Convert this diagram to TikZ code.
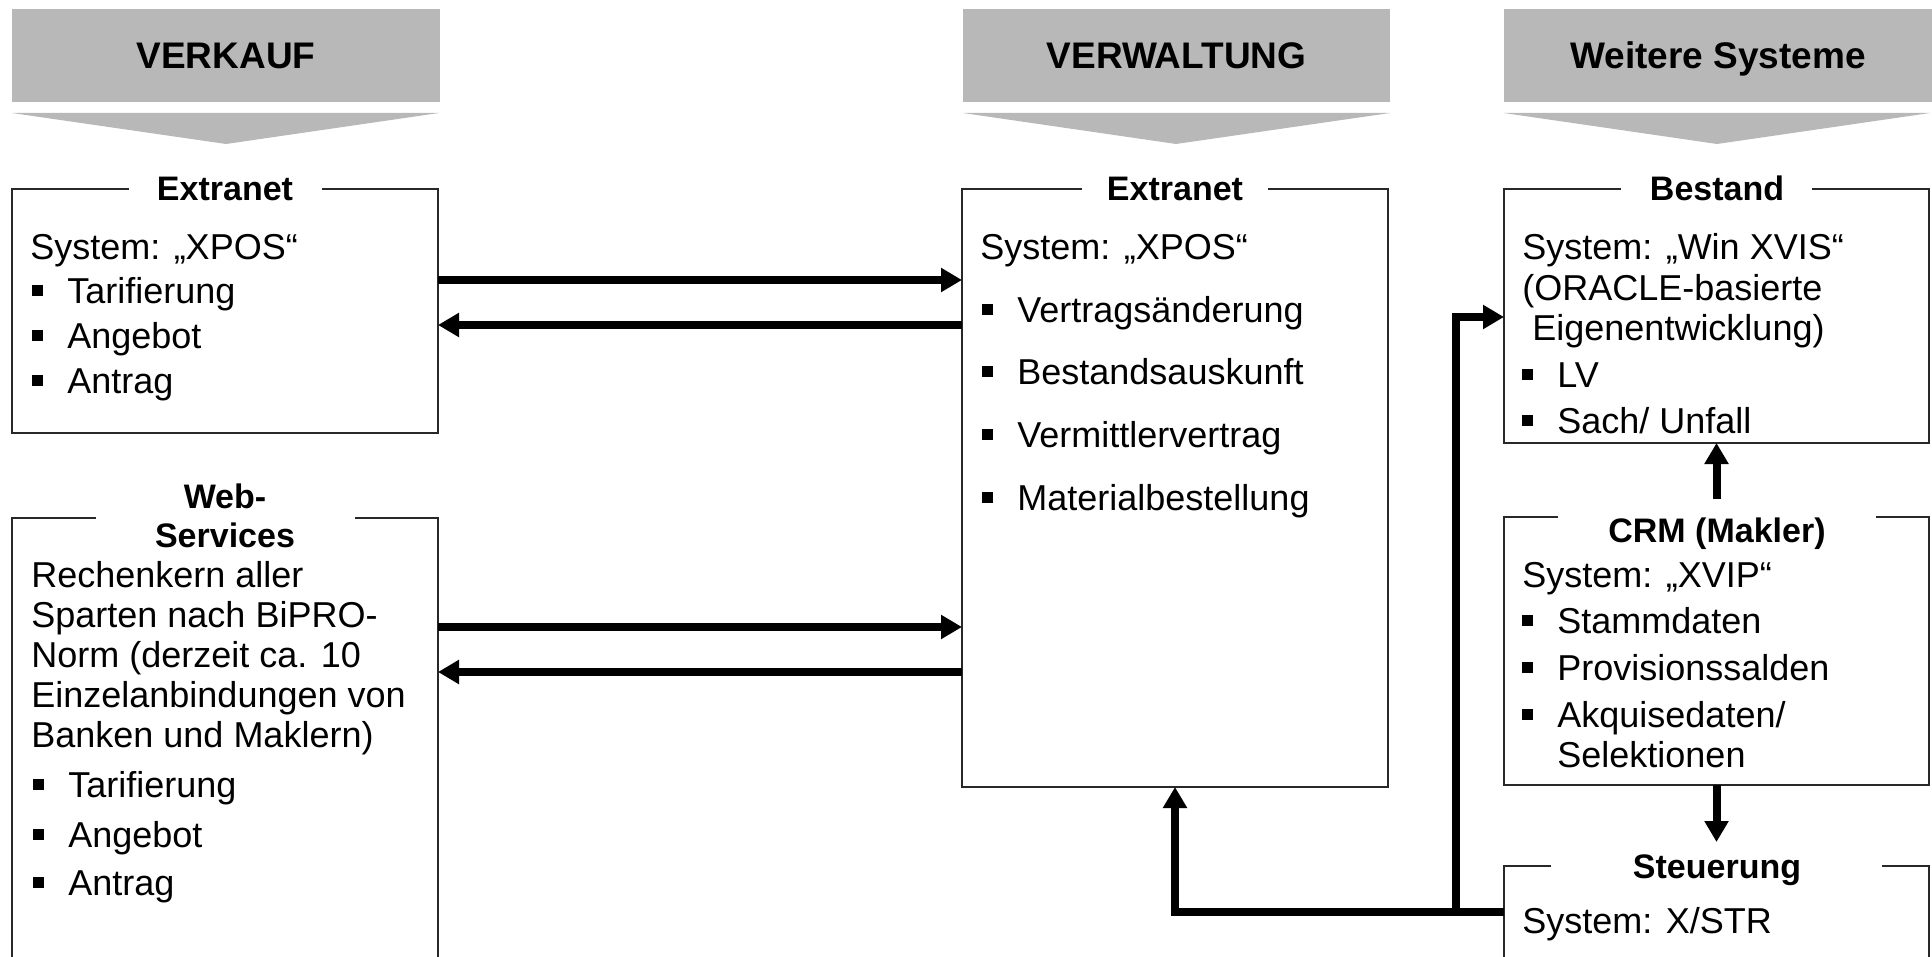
\documentclass[tikz,border=0pt]{standalone}
\usepackage{fontspec}
\setmainfont{Liberation Sans}
\usetikzlibrary{arrows.meta,calc}
\definecolor{headgray}{RGB}{184,184,184}
\definecolor{boxline}{RGB}{40,40,40}
\newcommand{\bul}{\makebox[17.5pt][l]{\rule[3.4pt]{5.5pt}{5.5pt}}}
\begin{document}
\begin{tikzpicture}[x=0.5pt,y=-0.5pt,
  box/.style={draw=boxline, line width=1pt, inner sep=0pt, outer sep=0pt, anchor=north west},
  head/.style={fill=headgray, inner sep=0pt, outer sep=0pt, anchor=north west, text height=13.3pt, text depth=0pt, font=\fontsize{18.5pt}{22pt}\selectfont\bfseries},
  gap/.style={fill=white, inner sep=0pt, outer sep=0pt, minimum height=6pt},
  ttl/.style={anchor=base, inner sep=0pt, font=\fontsize{17pt}{20pt}\selectfont\bfseries},
  txt/.style={anchor=base west, inner sep=0pt, font=\fontsize{18pt}{21pt}\selectfont},
  conn/.style={line width=4pt, -{Triangle[length=10.5pt,width=11.5pt]}},
]
\useasboundingbox (0,0) rectangle (1932,957);
\clip (0,0) rectangle (1932,957);

% headers
\node[head, minimum width=214pt, minimum height=46.5pt] (hV) at (12,9) {VERKAUF};
\node[head, minimum width=213.5pt, minimum height=46.5pt] (hW) at (963,9) {VERWALTUNG};
\node[head, minimum width=214pt, minimum height=46.5pt] (hS) at (1504,9) {Weitere Systeme};
\fill[headgray] (12,113) -- (439,113) -- (226,144) -- cycle;
\fill[headgray] (963,113) -- (1390,113) -- (1176,144) -- cycle;
\fill[headgray] (1504,113) -- (1930,113) -- (1717,144) -- cycle;

% boxes
\node[box, minimum width=213pt, minimum height=122pt] (exL) at (12,189) {};
\node[box, minimum width=213pt, minimum height=250pt] (ws) at (12,518) {};
\node[box, minimum width=213pt, minimum height=299pt] (exM) at (962,189) {};
\node[box, minimum width=212.5pt, minimum height=127pt] (best) at (1504,189) {};
\node[box, minimum width=212.5pt, minimum height=134pt] (crm) at (1504,517) {};
\node[box, minimum width=212.5pt, minimum height=80pt] (steu) at (1504,866) {};

% title gaps
\node[gap, minimum width=96.5pt] (gL) at (exL.north) {};
\node[gap, minimum width=129.5pt] (gW) at (ws.north) {};
\node[gap, minimum width=93pt] (gM) at (exM.north) {};
\node[gap, minimum width=95.5pt] (gB) at (best.north) {};
\node[gap, minimum width=159pt] (gC) at (crm.north) {};
\node[gap, minimum width=165.5pt] (gS) at (steu.north) {};

% titles
\node[ttl] (tL) at (225,201) {Extranet};
\node[ttl] (tW1) at (225,508) {Web-};
\node[ttl] (tW2) at (225,547) {Services};
\node[ttl] (tM) at (1175,201) {Extranet};
\node[ttl] (tB) at (1717,201) {Bestand};
\node[ttl] (tC) at (1717,542) {CRM (Makler)};
\node[ttl] (tS) at (1717,878) {Steuerung};

% left extranet
\node[txt] (l1) at (30,260) {System: „XPOS“};
\node[txt] (l2) at (32,303) {\bul Tarifierung};
\node[txt] (l3) at (32,348) {\bul Angebot};
\node[txt] (l4) at (32,393) {\bul Antrag};

% web services
\node[txt] (w1) at (31,587) {Rechenkern aller};
\node[txt] (w2) at (31,627) {Sparten nach BiPRO-};
\node[txt] (w3) at (31,667) {Norm (derzeit ca. 10};
\node[txt] (w4) at (31,707) {Einzelanbindungen von};
\node[txt] (w5) at (31,747) {Banken und Maklern)};
\node[txt] (w6) at (33,797) {\bul Tarifierung};
\node[txt] (w7) at (33,847) {\bul Angebot};
\node[txt] (w8) at (33,895) {\bul Antrag};

% middle extranet
\node[txt] (m1) at (980,260) {System: „XPOS“};
\node[txt] (m2) at (982,322) {\bul Vertragsänderung};
\node[txt] (m3) at (982,384) {\bul Bestandsauskunft};
\node[txt] (m4) at (982,447) {\bul Vermittlervertrag};
\node[txt] (m5) at (982,510) {\bul Materialbestellung};

% bestand
\node[txt] (b1t) at (1522,260) {System: „Win XVIS“};
\node[txt] (b2t) at (1522,300) {(ORACLE-basierte};
\node[txt] (b3t) at (1532,340) {Eigenentwicklung)};
\node[txt] (b4t) at (1522,387) {\bul LV};
\node[txt] (b5t) at (1522,433) {\bul Sach/ Unfall};

% crm
\node[txt] (c1) at (1522,587) {System: „XVIP“};
\node[txt] (c2) at (1522,633) {\bul Stammdaten};
\node[txt] (c3) at (1522,680) {\bul Provisionssalden};
\node[txt] (c4) at (1522,727) {\bul Akquisedaten/};
\node[txt] (c5) at (1557,767) {Selektionen};

% steuerung
\node[txt] (s1) at (1522,933) {System: X/STR};

% connectors
\coordinate (r1) at (0,280);
\coordinate (r2) at (0,325);
\coordinate (r3) at (0,627);
\coordinate (r4) at (0,672);
\draw[conn] (exL.east |- r1) -- (exM.west |- r1);
\draw[conn] (exM.west |- r2) -- (exL.east |- r2);
\draw[conn] (ws.east |- r3) -- (exM.west |- r3);
\draw[conn] (exM.west |- r4) -- (ws.east |- r4);

\coordinate (j) at (1175,912);
\coordinate (br) at (1456,912);
\coordinate (bt) at (1456,317);
\draw[conn] (steu.west |- j) -- (exM.south |- j) -- (exM.south);
\draw[conn] (br) -- (bt) -- (best.west |- bt);

\draw[conn] ($(crm.north)+(0,-18)$) -- (best.south);
\coordinate (sIn) at ($(crm.south)+(0,57)$);
\draw[conn] (crm.south) -- (sIn);
\end{tikzpicture}
\end{document}
